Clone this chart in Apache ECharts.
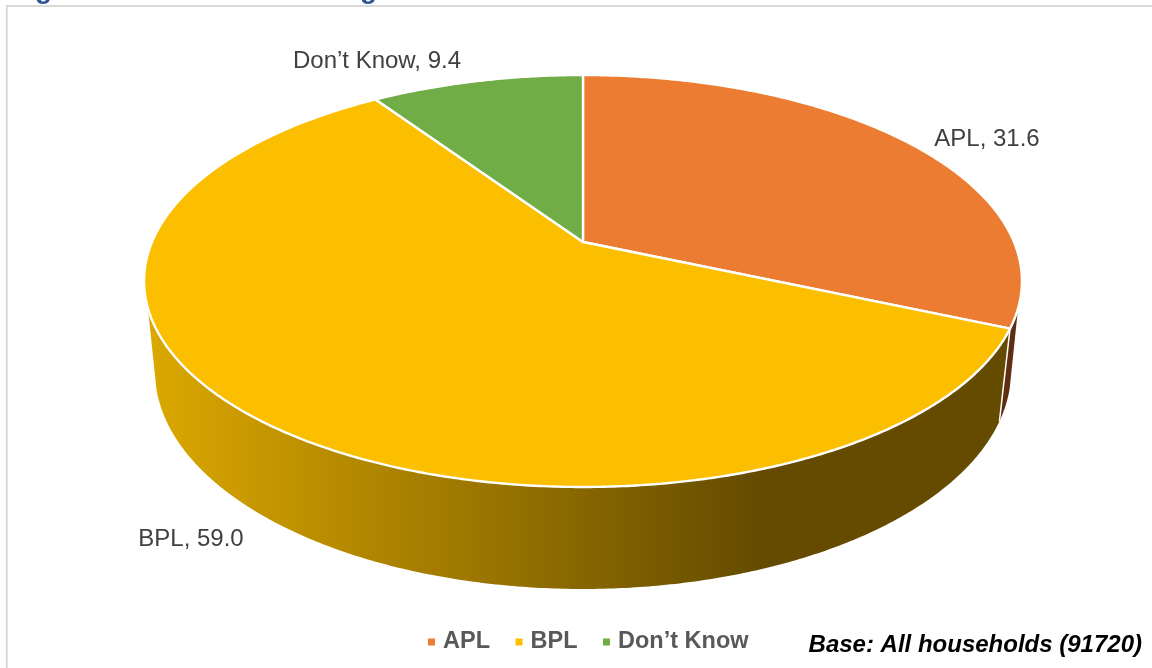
<!DOCTYPE html>
<html><head><meta charset="utf-8">
<style>html,body{margin:0;padding:0;background:#fff}#c{width:1152px;height:668px}</style>
<script src="https://cdn.jsdelivr.net/npm/echarts@6/dist/echarts.min.js"></script>
</head><body><div id="c"></div>
<script>
const categories = ['APL', 'BPL', 'Don\u2019t Know'];
const values = [31.6, 59.0, 9.4];
const colors = ['#ec7c31', '#fbbf00', '#70ad47'];
const titleText = 'Figure 3.1:\u00a0\u00a0\u00a0\u00a0\u00a0\u00a0Income categories of the households';
const baseText = 'Base: All households (91720)';

// Perspective projection of the pie's top and bottom discs
const TOP = {x: 583, y: 242, a: 198.6, b: 431, p: 0.1893};
const BOT = {x: 583, y: 329.7, a: 210.2, b: 420.3, p: 0.1893};
const labelPos = [[987, 139], [191, 539], [377, 61]];
const total = values.reduce((s, v) => s + v, 0);

function project(d, deg) {
  const t = deg * Math.PI / 180, u = Math.sin(t), v = Math.cos(t), w = 1 + d.p * v;
  return [d.x + d.b * u / w, d.y - d.a * v / w];
}
function arc(d, from, to) {
  const n = Math.max(2, Math.ceil(Math.abs(to - from) * 2)), pts = [];
  for (let i = 0; i <= n; i++) pts.push(project(d, from + (to - from) * i / n));
  return pts;
}
const wallFill = [
  '#5e2d12',
  new echarts.graphic.LinearGradient(147, 0, 1010, 0, [
    {offset: 0, color: '#dca800'}, {offset: 0.71, color: '#644b00'}, {offset: 1, color: '#644b00'}
  ], true),
  '#43682b'
];
function renderSlice(idx) {
  return function (params, api) {
    const val = api.value(0);
    const start = values.slice(0, idx).reduce((s, v) => s + v, 0) / total * 360;
    const end = start + val / total * 360;
    const children = [];
    const tS = Math.max(start, 108.3), tE = Math.min(end, 251.7);
    if (tS < tE) {
      const bS = start < 108.3 ? 105.3 : start, bE = end > 251.7 ? 254.7 : end;
      children.push({type: 'polygon', shape: {points: arc(TOP, tS, tE).concat(arc(BOT, bE, bS))},
        style: {fill: wallFill[idx]}});
      if (start >= 108.3) {
        children.push({type: 'polyline', shape: {points: [project(TOP, start), project(BOT, start)]},
          style: {fill: 'none', stroke: '#fff', lineWidth: 1.5}});
      }
    }
    children.push({type: 'polygon',
      shape: {points: [[TOP.x, TOP.y]].concat(arc(TOP, start, end))},
      style: {fill: colors[idx], stroke: '#fff', lineWidth: 2.4, lineJoin: 'round'}});
    children.push({type: 'text', x: labelPos[idx][0], y: labelPos[idx][1], style: {
      text: categories[idx] + ', ' + val.toFixed(1), fill: '#404040',
      font: '24px "Liberation Sans"', align: 'center', verticalAlign: 'middle'}});
    return {type: 'group', children};
  };
}
const chart = echarts.init(document.getElementById('c'), null, {renderer: 'canvas'});
chart.setOption({
  animation: false,
  backgroundColor: '#fff',
  legend: {
    data: categories, left: 423, top: 625, itemWidth: 7, itemHeight: 7, itemGap: 25.5,
    icon: 'rect',
    textStyle: {fontFamily: 'Liberation Sans', fontWeight: 'bold', fontSize: 23.5, color: '#595959', padding: [0, 0, 0, 3]}
  },
  graphic: [
    {type: 'rect', silent: true, shape: {x: 6.8, y: 6, width: 1200, height: 720},
      style: {fill: 'none', stroke: '#d9d9d9', lineWidth: 2}},
    {type: 'text', silent: true, x: 10, y: 4, style: {text: titleText, fill: '#2f5496',
      font: 'bold 28px "Liberation Sans"', verticalAlign: 'bottom'}},
    {type: 'text', silent: true, x: 1142, y: 645, style: {text: baseText, fill: '#000',
      font: 'italic bold 24px "Liberation Sans"', align: 'right', verticalAlign: 'middle'}}
  ],
  series: categories.map((name, i) => ({
    type: 'custom', name, coordinateSystem: 'none',
    itemStyle: {color: colors[i]},
    renderItem: renderSlice(i),
    data: [[values[i]]]
  }))
});
</script></body></html>
